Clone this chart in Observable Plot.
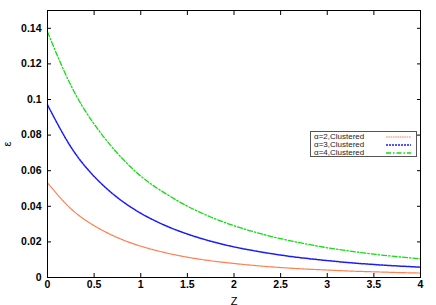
<!DOCTYPE html>
<html>
<head>
<meta charset="utf-8">
<script src="https://cdn.jsdelivr.net/npm/d3@7"></script>
<script src="https://cdn.jsdelivr.net/npm/@observablehq/plot@0.6"></script>
<style>
  html, body { margin: 0; padding: 0; background: #fff; }
  #wrap { position: relative; width: 436px; height: 305px; }
  #legend { position: absolute; left: 310px; top: 131px; width: 107px; height: 26px;
    border: 1px solid #555; box-sizing: border-box; font-family: "Liberation Sans", Arial, sans-serif;
    font-size: 8px; line-height: 8.3px; color: #222; background: #fff; padding-top: 0.5px; }
  #legend .row { position: relative; height: 8.3px; padding-left: 3px; white-space: nowrap; }
  #legend svg { position: absolute; left: 74px; top: 0; }
</style>
</head>
<body>
<div id="wrap"></div>
<script>
// Values
const zValues = [0, 0.25, 0.5, 0.75, 1, 1.25, 1.5, 1.75, 2, 2.25, 2.5, 2.75, 3, 3.25, 3.5, 3.75, 4];
const alpha2 = [0.0532, 0.0387, 0.0291, 0.0224, 0.0176, 0.0141, 0.0114, 0.0094, 0.0079, 0.0066, 0.0056, 0.0048, 0.0042, 0.0036, 0.0032, 0.0028, 0.0025];
const alpha3 = [0.0970, 0.0734, 0.0568, 0.0449, 0.0361, 0.0295, 0.0244, 0.0204, 0.0172, 0.0147, 0.0126, 0.0109, 0.0095, 0.0083, 0.0073, 0.0065, 0.0058];
const alpha4 = [0.1380, 0.1080, 0.0862, 0.0698, 0.0570, 0.0477, 0.0401, 0.0340, 0.0291, 0.0251, 0.0218, 0.0191, 0.0167, 0.0148, 0.0131, 0.0117, 0.0105];
const seriesNames = ["α=2,Clustered", "α=3,Clustered", "α=4,Clustered"];
const xTicks = [0, 0.5, 1, 1.5, 2, 2.5, 3, 3.5, 4];
const yTicks = [0, 0.02, 0.04, 0.06, 0.08, 0.1, 0.12, 0.14];
const xLabel = "Z";
const yLabel = "ε";

const styles = [
  {stroke: "#ff7f50", strokeWidth: 1.2, dash: "1.6,0.7"},
  {stroke: "#1a1aff", strokeWidth: 1.5, dash: "2,1"},
  {stroke: "#11dd11", strokeWidth: 1.3, dash: "5,2,1.5,2"}
];
const allSeries = [alpha2, alpha3, alpha4];
const tables = allSeries.map(vals => zValues.map((z, i) => ({z, v: vals[i]})));

const chart = Plot.plot({
  width: 436,
  height: 305,
  marginLeft: 47,
  marginRight: 16,
  marginTop: 10,
  marginBottom: 28,
  style: {fontFamily: "'Liberation Sans', Arial, sans-serif", fontSize: "10.5px", color: "#000", background: "#fff"},
  x: {domain: [0, 4]},
  y: {domain: [0, 0.15]},
  marks: [
    ...tables.map((t, i) => Plot.line(t, {x: "z", y: "v", curve: "natural",
      stroke: styles[i].stroke, strokeWidth: styles[i].strokeWidth, strokeDasharray: styles[i].dash})),
    Plot.axisX({anchor: "bottom", ticks: xTicks, tickSize: -4, tickPadding: 7,
      tickFormat: d => String(d), fontWeight: "bold", fontSize: 10.5, label: null}),
    Plot.axisX({anchor: "bottom", ticks: [], label: xLabel, labelAnchor: "center", labelArrow: "none",
      labelOffset: 27, fontSize: 11, fontWeight: "normal"}),
    Plot.axisX({anchor: "top", ticks: xTicks, tickSize: -4, tickFormat: () => "", label: null}),
    Plot.axisY({anchor: "left", ticks: yTicks, tickSize: -4, tickPadding: 10,
      tickFormat: d => d === 0 ? "0" : String(+d.toFixed(2)), fontWeight: "bold", fontSize: 10.5, label: null}),
    Plot.axisY({anchor: "left", ticks: [], label: yLabel, labelAnchor: "center", labelArrow: "none",
      labelOffset: 44, fontSize: 11, fontWeight: "normal"}),
    Plot.axisY({anchor: "right", ticks: yTicks, tickSize: -4, tickFormat: () => "", label: null}),
    Plot.frame({stroke: "#000", strokeWidth: 1})
  ]
});
const wrap = document.getElementById("wrap");
wrap.appendChild(chart);

// Legend (HTML overlay, real text)
const legend = document.createElement("div");
legend.id = "legend";
seriesNames.forEach((name, i) => {
  const row = document.createElement("div");
  row.className = "row";
  row.textContent = name;
  const svgNS = "http://www.w3.org/2000/svg";
  const s = document.createElementNS(svgNS, "svg");
  s.setAttribute("width", "26"); s.setAttribute("height", "8");
  const l = document.createElementNS(svgNS, "line");
  l.setAttribute("x1", "1"); l.setAttribute("x2", "26"); l.setAttribute("y1", "4"); l.setAttribute("y2", "4");
  l.setAttribute("stroke", styles[i].stroke);
  l.setAttribute("stroke-width", styles[i].strokeWidth);
  l.setAttribute("stroke-dasharray", styles[i].dash);
  s.appendChild(l);
  row.appendChild(s);
  legend.appendChild(row);
});
wrap.appendChild(legend);
</script>
</body>
</html>
